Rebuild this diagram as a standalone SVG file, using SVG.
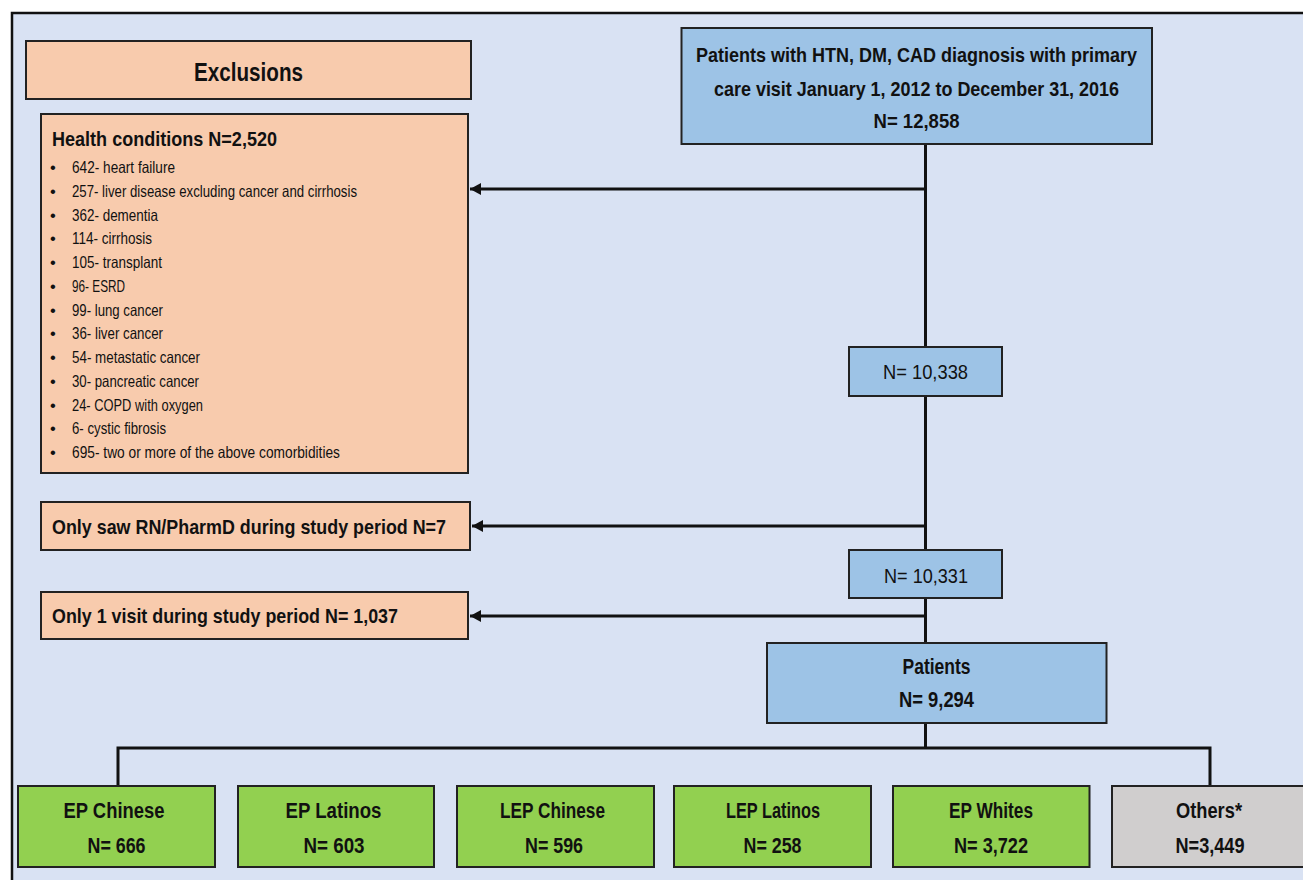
<svg xmlns="http://www.w3.org/2000/svg" width="1303" height="880" viewBox="0 0 1303 880">
<style>
text{font-family:"Liberation Sans Narrow","Liberation Sans",Arial,sans-serif;fill:#111;}
.b{font-weight:bold;}
.salmon{fill:#f8cbad;stroke:#222;stroke-width:2;}
.blue{fill:#9dc3e6;stroke:#222;stroke-width:2;}
.green{fill:#92d050;stroke:#222;stroke-width:2;}
.grey{fill:#d0cece;stroke:#222;stroke-width:2;}
.c{text-anchor:middle;}
.li{font-size:16.5px;}
.conn{stroke:#111;stroke-width:3;fill:none;}
</style>
<defs>
<marker id="ah" markerUnits="userSpaceOnUse" markerWidth="12" markerHeight="14" refX="11" refY="7" orient="auto" viewBox="0 0 12 14">
<path d="M0,1 L11,7 L0,13 Z" fill="#111"/>
</marker>
</defs>
<rect x="0" y="0" width="1303" height="880" fill="#ffffff"/>
<rect x="12" y="13" width="1302" height="880" fill="#d9e2f3" stroke="#111" stroke-width="2.5"/>

<g id="connectors">
<line class="conn" x1="925.5" y1="144" x2="925.5" y2="347"/>
<line class="conn" x1="925.5" y1="396" x2="925.5" y2="550"/>
<line class="conn" x1="925.5" y1="598" x2="925.5" y2="643"/>
<line class="conn" x1="925.5" y1="723" x2="925.5" y2="748"/>
<line class="conn" x1="925.5" y1="189" x2="470" y2="189" marker-end="url(#ah)"/>
<line class="conn" x1="925.5" y1="526" x2="472" y2="526" marker-end="url(#ah)"/>
<line class="conn" x1="925.5" y1="616" x2="470" y2="616" marker-end="url(#ah)"/>
<polyline class="conn" points="118,786 118,748 1210,748 1210,786"/>
</g>

<g id="exclusions">
<rect class="salmon" x="26" y="41" width="445" height="58"/>
<text class="b c" x="248.5" y="81" font-size="26" textLength="109" lengthAdjust="spacingAndGlyphs">Exclusions</text>
</g>

<g id="health">
<rect class="salmon" x="41" y="114" width="427" height="359"/>
<text x="52" y="146" font-size="21" font-weight="600" textLength="225" lengthAdjust="spacingAndGlyphs">Health conditions N=2,520</text>
<g class="li">
<text x="50" y="173">•</text><text x="72" y="173" textLength="103" lengthAdjust="spacingAndGlyphs">642- heart failure</text>
<text x="50" y="196.75">•</text><text x="72" y="196.75" textLength="285" lengthAdjust="spacingAndGlyphs">257- liver disease excluding cancer and cirrhosis</text>
<text x="50" y="220.5">•</text><text x="72" y="220.5" textLength="86" lengthAdjust="spacingAndGlyphs">362- dementia</text>
<text x="50" y="244.25">•</text><text x="72" y="244.25" textLength="80" lengthAdjust="spacingAndGlyphs">114- cirrhosis</text>
<text x="50" y="268">•</text><text x="72" y="268" textLength="90" lengthAdjust="spacingAndGlyphs">105- transplant</text>
<text x="50" y="291.75">•</text><text x="72" y="291.75" textLength="53" lengthAdjust="spacingAndGlyphs">96- ESRD</text>
<text x="50" y="315.5">•</text><text x="72" y="315.5" textLength="91" lengthAdjust="spacingAndGlyphs">99- lung cancer</text>
<text x="50" y="339.25">•</text><text x="72" y="339.25" textLength="91" lengthAdjust="spacingAndGlyphs">36- liver cancer</text>
<text x="50" y="363">•</text><text x="72" y="363" textLength="128" lengthAdjust="spacingAndGlyphs">54- metastatic cancer</text>
<text x="50" y="386.75">•</text><text x="72" y="386.75" textLength="127" lengthAdjust="spacingAndGlyphs">30- pancreatic cancer</text>
<text x="50" y="410.5">•</text><text x="72" y="410.5" textLength="131" lengthAdjust="spacingAndGlyphs">24- COPD with oxygen</text>
<text x="50" y="434.25">•</text><text x="72" y="434.25" textLength="94" lengthAdjust="spacingAndGlyphs">6- cystic fibrosis</text>
<text x="50" y="458">•</text><text x="72" y="458" textLength="268" lengthAdjust="spacingAndGlyphs">695- two or more of the above comorbidities</text>
</g>
</g>

<g id="rn-pharmd">
<rect class="salmon" x="41" y="502" width="429" height="48"/>
<text class="b" x="52" y="534" font-size="21" textLength="394" lengthAdjust="spacingAndGlyphs">Only saw RN/PharmD during study period N=7</text>
</g>

<g id="one-visit">
<rect class="salmon" x="41" y="592" width="427" height="47"/>
<text class="b" x="52" y="623" font-size="21" textLength="346" lengthAdjust="spacingAndGlyphs">Only 1 visit during study period N= 1,037</text>
</g>

<g id="start">
<rect class="blue" x="681.5" y="28" width="470.5" height="116"/>
<text class="b c" x="916.5" y="62" font-size="21" textLength="441" lengthAdjust="spacingAndGlyphs">Patients with HTN, DM, CAD diagnosis with primary</text>
<text class="b c" x="916.5" y="96" font-size="21" textLength="405" lengthAdjust="spacingAndGlyphs">care visit January 1, 2012 to December 31, 2016</text>
<text class="b c" x="916.5" y="128" font-size="21" textLength="86" lengthAdjust="spacingAndGlyphs">N= 12,858</text>
</g>

<g id="n10338">
<rect class="blue" x="849" y="347" width="153" height="49"/>
<text class="c" x="925.5" y="379" font-size="21" textLength="85" lengthAdjust="spacingAndGlyphs">N= 10,338</text>
</g>

<g id="n10331">
<rect class="blue" x="849" y="550" width="153" height="48"/>
<text class="c" x="926" y="582.5" font-size="21" textLength="84" lengthAdjust="spacingAndGlyphs">N= 10,331</text>
</g>

<g id="patients">
<rect class="blue" x="767" y="643" width="339.5" height="80"/>
<text class="b c" x="936.5" y="674" font-size="22" textLength="68" lengthAdjust="spacingAndGlyphs">Patients</text>
<text class="b c" x="936.5" y="707" font-size="22" textLength="75" lengthAdjust="spacingAndGlyphs">N= 9,294</text>
</g>

<g id="ep-chinese">
<rect class="green" x="18" y="786" width="197" height="81"/>
<text class="b c" x="114" y="818" font-size="22" textLength="101" lengthAdjust="spacingAndGlyphs">EP Chinese</text>
<text class="b c" x="116.5" y="853" font-size="22" textLength="58" lengthAdjust="spacingAndGlyphs">N= 666</text>
</g>

<g id="ep-latinos">
<rect class="green" x="238" y="786" width="196" height="81"/>
<text class="b c" x="333.5" y="818" font-size="22" textLength="96" lengthAdjust="spacingAndGlyphs">EP Latinos</text>
<text class="b c" x="334" y="853" font-size="22" textLength="61" lengthAdjust="spacingAndGlyphs">N= 603</text>
</g>

<g id="lep-chinese">
<rect class="green" x="457" y="786" width="197" height="81"/>
<text class="b c" x="552.5" y="818" font-size="22" textLength="105" lengthAdjust="spacingAndGlyphs">LEP Chinese</text>
<text class="b c" x="554" y="853" font-size="22" textLength="58" lengthAdjust="spacingAndGlyphs">N= 596</text>
</g>

<g id="lep-latinos">
<rect class="green" x="674" y="786" width="197" height="81"/>
<text class="b c" x="773" y="818" font-size="22" textLength="94" lengthAdjust="spacingAndGlyphs">LEP Latinos</text>
<text class="b c" x="772.5" y="853" font-size="22" textLength="58" lengthAdjust="spacingAndGlyphs">N= 258</text>
</g>

<g id="ep-whites">
<rect class="green" x="893" y="786" width="196.5" height="81"/>
<text class="b c" x="991" y="818" font-size="22" textLength="84" lengthAdjust="spacingAndGlyphs">EP Whites</text>
<text class="b c" x="991" y="853" font-size="22" textLength="74" lengthAdjust="spacingAndGlyphs">N= 3,722</text>
</g>

<g id="others">
<rect class="grey" x="1112" y="786" width="197" height="81"/>
<text class="b c" x="1209" y="818" font-size="22" textLength="66" lengthAdjust="spacingAndGlyphs">Others*</text>
<text class="b c" x="1210" y="853" font-size="22" textLength="69" lengthAdjust="spacingAndGlyphs">N=3,449</text>
</g>
</svg>
